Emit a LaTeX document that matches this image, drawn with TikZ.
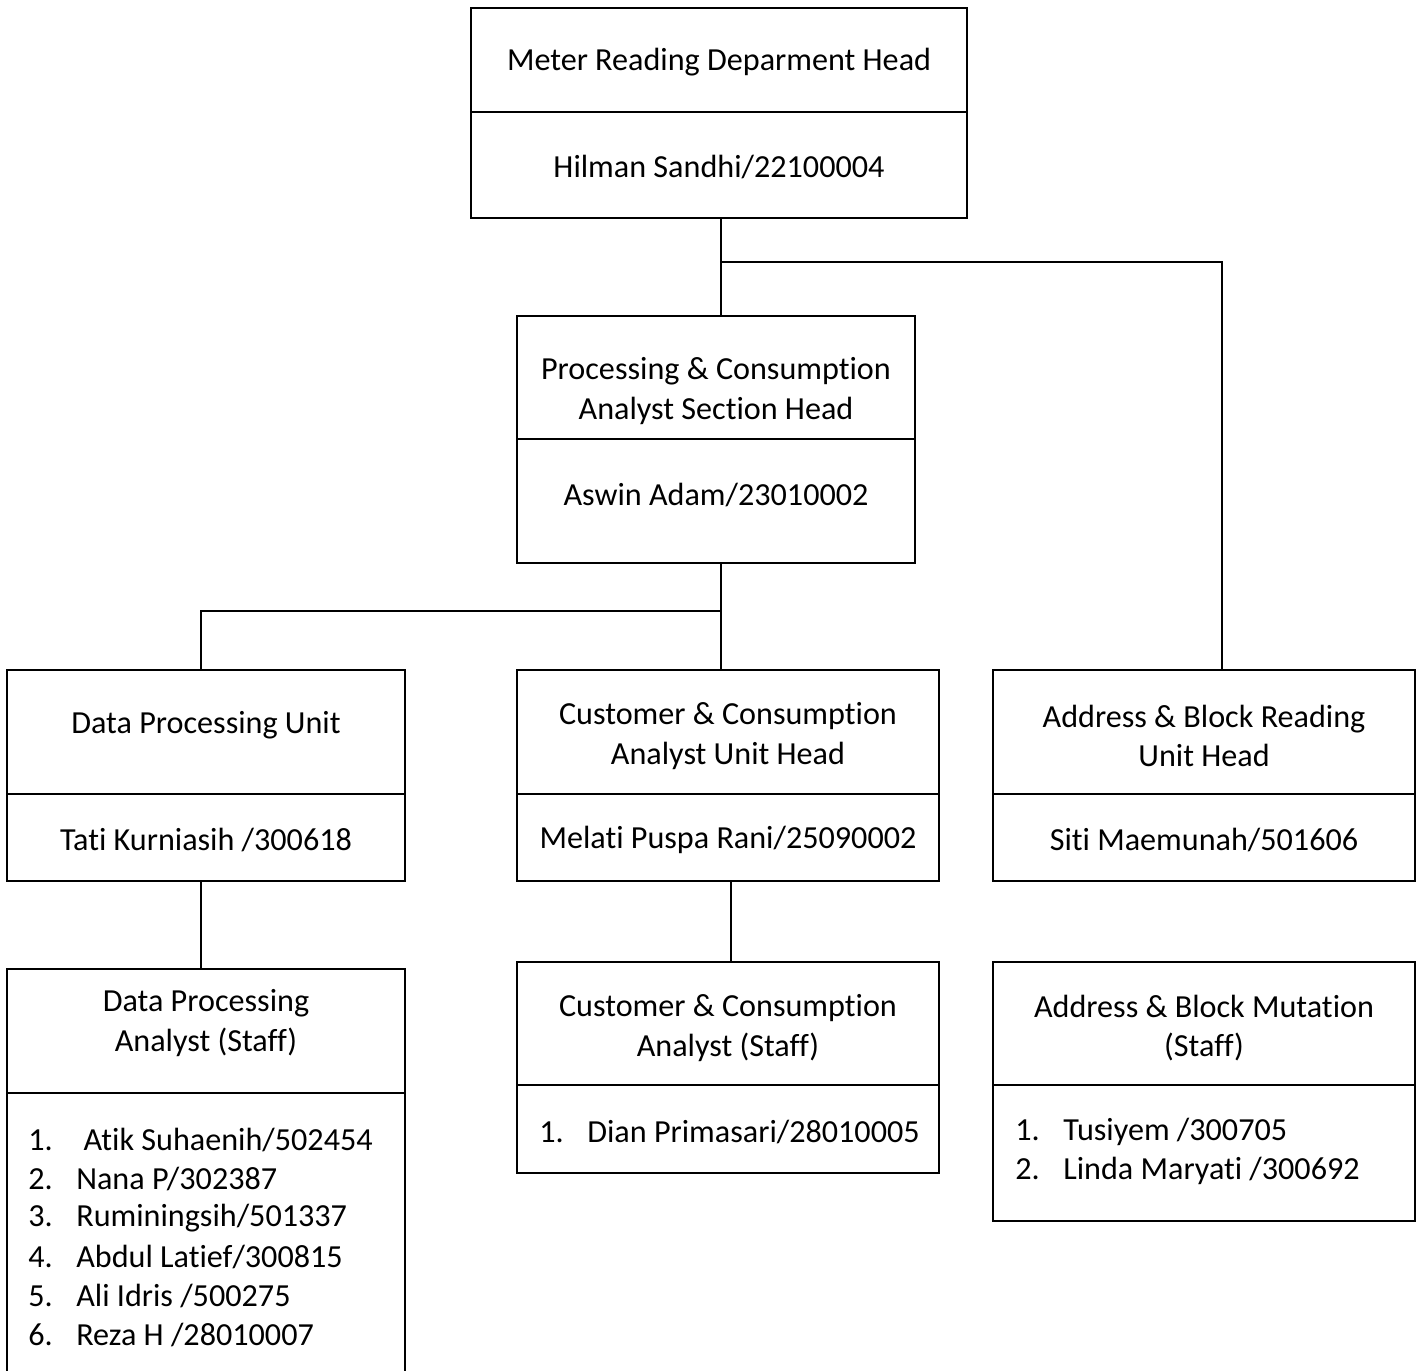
\documentclass[tikz,border=0pt]{standalone}
\usepackage{fontspec}
\setmainfont{Carlito}[RawFeature=-liga,RawFeature=-clig,RawFeature=-dlig,RawFeature=-calt]
\usetikzlibrary{positioning,fit}
\tikzset{
  box/.style={draw,line width=1.1pt,inner sep=0pt},
  txt/.style={font=\fontsize{18.3}{22.4}\selectfont,align=center,inner sep=0pt,yshift=-1.1pt},
  item/.style={font=\fontsize{18.3}{22.4}\selectfont,anchor=west,inner sep=0pt,yshift=-1.1pt},
  link/.style={line width=1.1pt}
}
\newcommand{\num}[1]{\makebox[0.96cm][l]{#1}}

\begin{document}
\begin{tikzpicture}[x=0.02cm,y=-0.02cm]
\clip (0,0) rectangle (1419,1370);
\fill[white] (0,0) rectangle (1419,1370);

% department head
\node[box,fit={(471,8)(967,112)}] (head-t) {};
\node[box,fit={(471,112)(967,218)}] (head-b) {};
\node[txt] (head-title) at (719,60) {Meter Reading Deparment Head};
\node[txt] (head-name) at (719,165) {Hilman Sandhi/22100004};

% section head
\node[box,fit={(517,316)(915,439)}] (sec-t) {};
\node[box,fit={(517,439)(915,563)}] (sec-b) {};
\node[txt] (sec-title) at (716,389) {Processing \& Consumption\\Analyst Section Head};
\node[txt] (sec-name) at (716,493) {Aswin Adam/23010002};

% units
\node[box,fit={(7,670)(405,794)}] (dpu-t) {};
\node[box,fit={(7,794)(405,881)}] (dpu-b) {};
\node[txt] (dpu-title) at (206,723) {Data Processing Unit};
\node[txt] (dpu-name) at (206,838) {Tati Kurniasih /300618};

\node[box,fit={(517,670)(939,794)}] (cust-t) {};
\node[box,fit={(517,794)(939,881)}] (cust-b) {};
\node[txt] (cust-title) at (728,734) {Customer \& Consumption\\Analyst Unit Head};
\node[txt] (cust-name) at (728,838) {Melati Puspa Rani/25090002};

\node[box,fit={(993,670)(1415,794)}] (addr-t) {};
\node[box,fit={(993,794)(1415,881)}] (addr-b) {};
\node[txt] (addr-title) at (1204,734) {Address \& Block Reading\\Unit Head};
\node[txt] (addr-name) at (1204,838) {Siti Maemunah/501606};

% staff
\node[box,fit={(7,969)(405,1093)}] (dps-t) {};
\node[box,fit={(7,1093)(405,1420)}] (dps-b) {};
\node[txt] (dps-title) at (206,1021) {Data Processing\\Analyst (Staff)};
\foreach \t [count=\n] in {{\ Atik Suhaenih/502454},{Nana P/302387},{Ruminingsih/501337},
    {Abdul Latief/300815},{Ali Idris /500275},{Reza H /28010007}}
  \node[item] (dps-i\n) at (28,1138+39*\n-39) {\num{\n.}\t};

\node[box,fit={(517,962)(939,1085)}] (cs-t) {};
\node[box,fit={(517,1085)(939,1173)}] (cs-b) {};
\node[txt] (cs-title) at (728,1026) {Customer \& Consumption\\Analyst (Staff)};
\node[item] (cs-i1) at (539,1130) {\num{1.}Dian Primasari/28010005};

\node[box,fit={(993,962)(1415,1085)}] (as-t) {};
\node[box,fit={(993,1085)(1415,1221)}] (as-b) {};
\node[txt] (as-title) at (1204,1026) {Address \& Block Mutation\\(Staff)};
\node[item] (as-i1) at (1015,1130) {\num{1.}Tusiyem /300705};
\node[item] (as-i2) at (1015,1169) {\num{2.}Linda Maryati /300692};

% connectors
\coordinate (j1) at (721,262);
\coordinate (j1r) at (1222,262);
\coordinate (j2) at (721,611);
\coordinate (j2l) at (201,611);
\coordinate (j3) at (731,900);
\draw[link] (j1 |- head-b.south) -- (j1 |- sec-t.north);
\draw[link] (j1) -- (j1r) -- (j1r |- addr-t.north);
\draw[link] (j2 |- sec-b.south) -- (j2 |- cust-t.north);
\draw[link] (j2) -- (j2l) -- (j2l |- dpu-t.north);
\draw[link] (j2l |- dpu-b.south) -- (j2l |- dps-t.north);
\draw[link] (j3 |- cust-b.south) -- (j3 |- cs-t.north);
\end{tikzpicture}
\end{document}
